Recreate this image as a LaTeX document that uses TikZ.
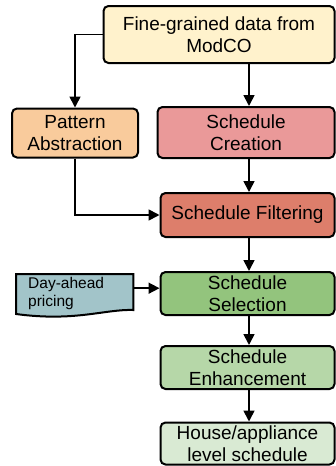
\documentclass[tikz,border=0pt]{standalone}
\usepackage{fontspec}
\setmainfont{Liberation Sans}
\usetikzlibrary{arrows.meta}
\definecolor{cTop}{HTML}{FFF2CC}
\definecolor{cPA}{HTML}{F9CB9C}
\definecolor{cSC}{HTML}{EA9999}
\definecolor{cSF}{HTML}{DD7E6B}
\definecolor{cDA}{HTML}{A2C4C9}
\definecolor{cSS}{HTML}{93C47D}
\definecolor{cSE}{HTML}{B6D7A8}
\definecolor{cHS}{HTML}{D9EAD3}
\begin{document}
\begin{tikzpicture}[x=1pt,y=-1pt,
  box/.style={draw=black, line width=2pt, rounded corners=5pt, inner sep=0pt,
    align=center, font=\fontsize{19}{22}\selectfont},
  conn/.style={line width=1.7pt, -{Triangle[length=11pt,width=11pt]}}]
\useasboundingbox (0,0) rectangle (336,466);
\node[box, fill=cTop, minimum width=231pt, minimum height=57pt] (top) at (219,34.5) {Fine-grained data from\\ModCO};
\node[box, fill=cPA, minimum width=126pt, minimum height=49pt] (pa) at (75,133) {Pattern\\Abstraction};
\node[box, fill=cSC, minimum width=177pt, minimum height=51pt] (sc) at (246,132.5) {Schedule\\Creation};
\node[box, fill=cSF, minimum width=174pt, minimum height=44pt] (sf) at (247.5,215) {Schedule Filtering};
\node[box, fill=cSS, minimum width=174pt, minimum height=43pt] (ss) at (247.5,293.5) {Schedule\\Selection};
\node[box, fill=cSE, minimum width=174pt, minimum height=43pt] (se) at (247.5,367.5) {Schedule\\Enhancement};
\node[box, fill=cHS, minimum width=174pt, minimum height=42pt] (hs) at (247.5,443.5) {House/appliance\\level schedule};
% day-ahead document shape
\node[inner sep=0pt, minimum width=117pt, minimum height=28pt, anchor=north west] (da) at (16,274) {};
\draw[fill=cDA, line width=2pt] (da.north west) -- (da.north east) -- ++(0,36)
  .. controls (105,309) and (75,322) .. (16,314) -- cycle;
\node[inner sep=0pt, anchor=north west, align=left, font=\fontsize{15.5}{18}\selectfont] (dat) at (28,277.5) {Day-ahead\\pricing};
\coordinate (colx) at (249,0);
\draw[conn] (top.south -| colx) -- (sc.north -| colx);
\draw[conn] (top.west) -- (pa.north |- top.west) -- (pa.north);
\draw[conn] (sc.south -| colx) -- (sf.north -| colx);
\draw[conn] (pa.south) -- (pa.south |- sf.west) -- (sf.west);
\draw[conn] (sf.south -| colx) -- (ss.north -| colx);
\draw[conn] (da.east) -- (da.east -| ss.west);
\draw[conn] (ss.south -| colx) -- (se.north -| colx);
\draw[conn] (se.south -| colx) -- (hs.north -| colx);
\end{tikzpicture}
\end{document}
